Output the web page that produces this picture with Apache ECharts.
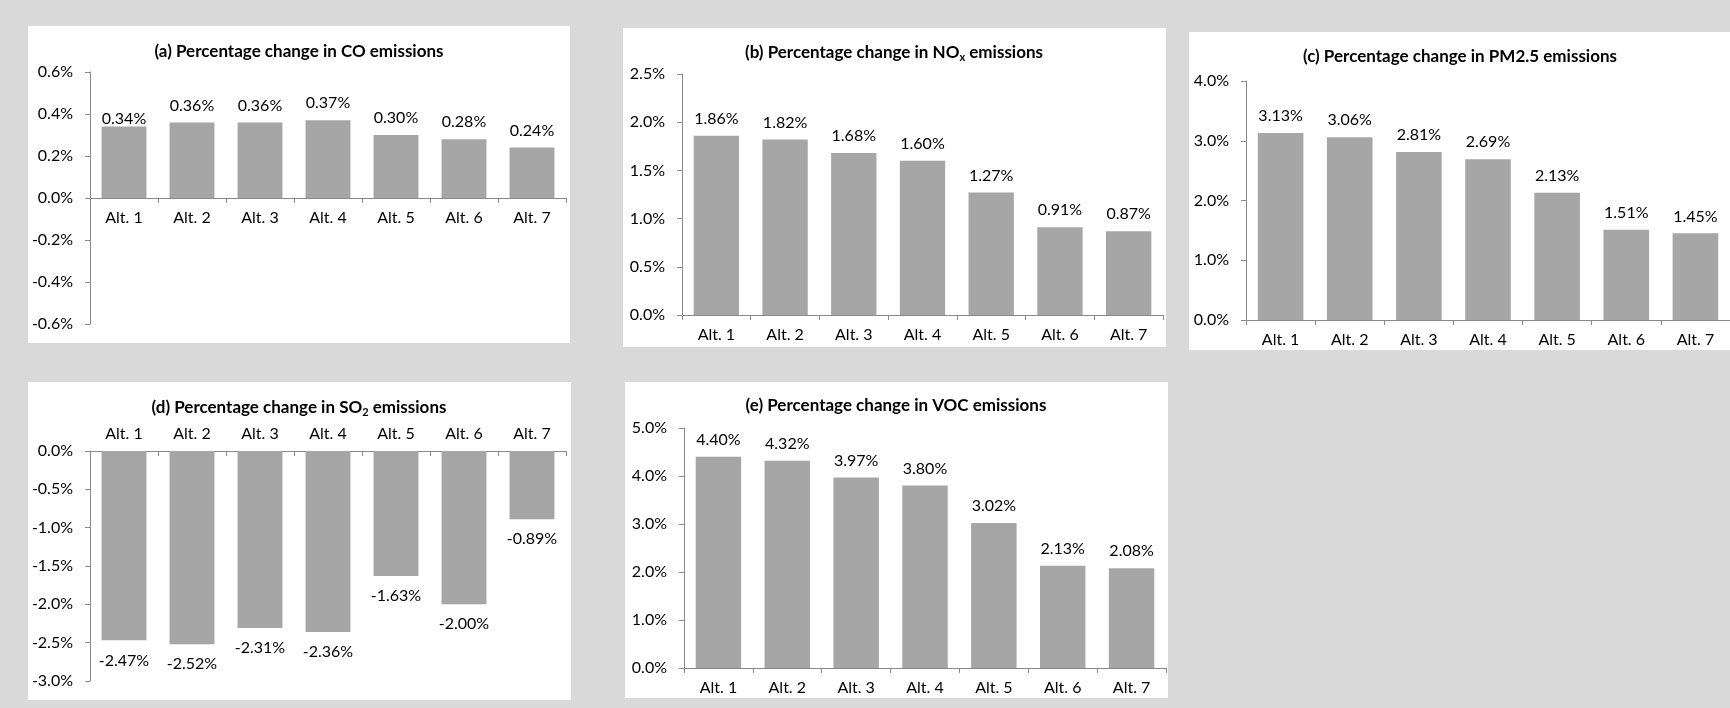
<!DOCTYPE html>
<html>
<head>
<meta charset="utf-8">
<script src="https://cdn.jsdelivr.net/npm/echarts@6/dist/echarts.min.js"></script>
<style>
  html, body { margin: 0; padding: 0; background: #d9d9d9; }
  #chart { width: 1730px; height: 708px; }
</style>
</head>
<body>
<div id="chart"></div>
<script>
// Categories shared by every panel
const categories = ['Alt. 1', 'Alt. 2', 'Alt. 3', 'Alt. 4', 'Alt. 5', 'Alt. 6', 'Alt. 7'];

// Percentage change in emissions per alternative (%)
const coValues   = [0.34, 0.36, 0.36, 0.37, 0.30, 0.28, 0.24];
const noxValues  = [1.86, 1.82, 1.68, 1.60, 1.27, 0.91, 0.87];
const pm25Values = [3.13, 3.06, 2.81, 2.69, 2.13, 1.51, 1.45];
const so2Values  = [-2.47, -2.52, -2.31, -2.36, -1.63, -2.00, -0.89];
const vocValues  = [4.40, 4.32, 3.97, 3.80, 3.02, 2.13, 2.08];

// Panel titles ({sub|..} marks a subscript)
const titleA = '(a) Percentage change in CO emissions';
const titleB = '(b) Percentage change in NO{sub|x} emissions';
const titleC = '(c) Percentage change in PM2.5 emissions';
const titleD = '(d) Percentage change in SO{sub|2} emissions';
const titleE = '(e) Percentage change in VOC emissions';

// Value-axis ranges [min, max, interval] in %
const rangeA = [-0.6, 0.6, 0.2];
const rangeB = [0, 2.5, 0.5];
const rangeC = [0, 4, 1];
const rangeD = [-3, 0, 0.5];
const rangeE = [0, 5, 1];

// Panel layout: white card, plot grid, title anchor
const panels = [
  { values: coValues,   title: titleA, range: rangeA, card: [28, 26, 542, 317],   grid: { left: 90,   top: 72,  width: 476, height: 252 }, tx: 299,  ty: 52 },
  { values: noxValues,  title: titleB, range: rangeB, card: [623, 28, 543, 319],  grid: { left: 682,  top: 74,  width: 481, height: 241 }, tx: 894,  ty: 53 },
  { values: pm25Values, title: titleC, range: rangeC, card: [1189, 32, 545, 318], grid: { left: 1246, top: 81,  width: 487, height: 239 }, tx: 1460, ty: 57 },
  { values: so2Values,  title: titleD, range: rangeD, card: [28, 382, 543, 318],  grid: { left: 90,   top: 451, width: 476, height: 230 }, tx: 299,  ty: 408, top: true },
  { values: vocValues,  title: titleE, range: rangeE, card: [625, 382, 543, 316], grid: { left: 684,  top: 428, width: 482, height: 240 }, tx: 896,  ty: 406 }
];

// The first CO label sits lower, resting on its bar
const labelDistanceOverride = { 0: { 0: 0 } };

const FONT = 'Lato, "Open Sans", sans-serif';
const TEXT = '#000000';
const AXIS = '#898989';
const BAR = '#a6a6a6';
const CAT_LABEL_GAP_BELOW = 12;
const CAT_LABEL_GAP_ABOVE = 9;

function pct1(v) {
  if (Math.abs(v) < 1e-9) v = 0;
  return v.toFixed(1) + '%';
}

// Category labels follow the zero line when the value axis spans both signs
function categoryLabelMargin(p) {
  const [min, max] = p.range;
  if (p.top) return CAT_LABEL_GAP_ABOVE;
  if (min >= 0) return CAT_LABEL_GAP_BELOW;
  const belowZero = p.grid.height * (0 - min) / (max - min);
  return CAT_LABEL_GAP_BELOW - belowZero;
}

const option = {
  animation: false,
  backgroundColor: '#d9d9d9',
  graphic: panels.map(p => ({
    type: 'rect',
    z: -10,
    shape: { x: p.card[0], y: p.card[1], width: p.card[2], height: p.card[3] },
    style: { fill: '#ffffff' }
  })),
  title: panels.map(p => ({
    text: p.title,
    left: p.tx,
    top: p.ty - 10,
    textAlign: 'center',
    padding: 0,
    textStyle: {
      fontFamily: FONT, fontWeight: 'bold', fontSize: 17, color: TEXT, lineHeight: 20,
      rich: {
        sub: { fontFamily: FONT, fontWeight: 'bold', fontSize: 11, color: TEXT, lineHeight: 9, verticalAlign: 'bottom' }
      }
    }
  })),
  grid: panels.map(p => Object.assign({ containLabel: false }, p.grid)),
  xAxis: panels.map((p, i) => ({
    type: 'category',
    gridIndex: i,
    data: categories,
    position: p.top ? 'top' : 'bottom',
    axisLine: { show: true, onZero: !p.top, lineStyle: { color: AXIS, width: 1 } },
    axisTick: { show: true, length: 5, inside: !!p.top, lineStyle: { color: AXIS } },
    axisLabel: { fontFamily: FONT, fontSize: 16, color: TEXT, margin: categoryLabelMargin(p), interval: 0 },
    splitLine: { show: false }
  })),
  yAxis: panels.map((p, i) => ({
    type: 'value',
    gridIndex: i,
    min: p.range[0],
    max: p.range[1],
    interval: p.range[2],
    axisLine: { show: true, onZero: false, lineStyle: { color: AXIS, width: 1 } },
    axisTick: { show: true, length: 5, lineStyle: { color: AXIS } },
    axisLabel: { fontFamily: FONT, fontSize: 16, color: TEXT, margin: 17, formatter: pct1 },
    splitLine: { show: false }
  })),
  series: panels.map((p, i) => ({
    type: 'bar',
    xAxisIndex: i,
    yAxisIndex: i,
    barCategoryGap: '34%',
    itemStyle: { color: BAR },
    label: {
      show: true,
      position: p.top ? 'bottom' : 'top',
      distance: p.top ? 12 : 9,
      fontFamily: FONT,
      fontSize: 16,
      color: TEXT,
      formatter: d => d.value.toFixed(2) + '%'
    },
    data: p.values.map((v, j) => {
      const o = labelDistanceOverride[i] && labelDistanceOverride[i][j];
      return o !== undefined ? { value: v, label: { distance: o } } : v;
    })
  }))
};

const chart = echarts.init(document.getElementById('chart'), null, { renderer: 'canvas' });
chart.setOption(option);
</script>
</body>
</html>
